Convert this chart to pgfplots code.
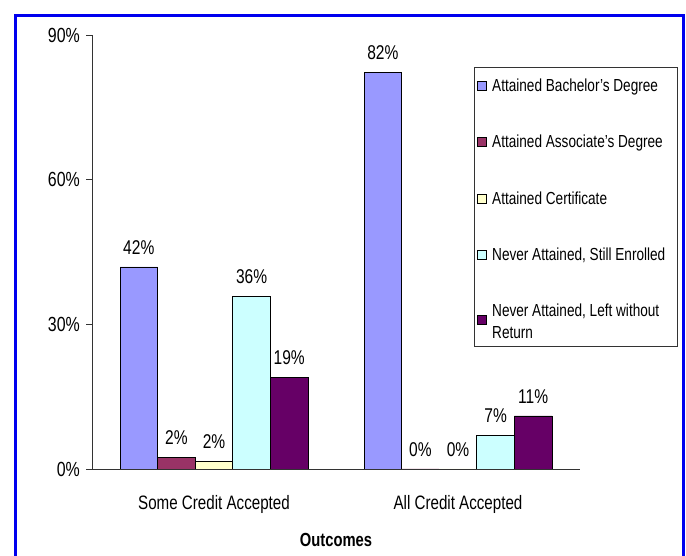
\documentclass[border=0pt]{standalone}
\usepackage{fontspec}
\setmainfont{Liberation Sans}[FakeStretch=0.78]
\usepackage{pgfplots}
\pgfplotsset{compat=1.18}
\definecolor{cBach}{HTML}{9999FF}
\definecolor{cAssoc}{HTML}{993366}
\definecolor{cCert}{HTML}{FFFFCC}
\definecolor{cEnr}{HTML}{CCFFFF}
\definecolor{cLeft}{HTML}{660066}
\definecolor{frameblue}{HTML}{0000EE}
\newcommand{\legtxt}[1]{\makebox[180bp][l]{#1}}
\begin{document}
\begin{tikzpicture}[x=1bp,y=1bp]
\path[use as bounding box] (0,0) rectangle (686,556);
\clip (0,0) rectangle (686,556);
\draw[frameblue, line width=3bp] (15.5,540.5) rectangle (683.5,-20);
\begin{axis}[
  at={(92bp,87bp)}, anchor=south west,
  scale only axis, width=488bp, height=434bp,
  xmin=-0.5, xmax=1.5, ymin=0, ymax=90,
  axis x line*=bottom, axis y line*=left,
  axis line style={black!80, line width=0.8bp},
  ybar=0pt, bar width=37.6bp,
  ytick={0,30,60,90},
  yticklabel={\pgfmathprintnumber{\tick}\%},
  /pgf/number format/assume math mode=true,
  ytick style={black!80, line width=0.8bp},
  y tick label style={font=\fontsize{20.5}{24}\selectfont, anchor=east, inner sep=0pt, xshift=-6bp},
  major tick length=6bp, tick align=outside,
  xtick={0,1},
  xticklabels={Some Credit Accepted, All Credit Accepted},
  x tick style={draw=none},
  x tick label style={font=\fontsize{19.5}{23}\selectfont, anchor=center, yshift=-29bp},
  extra x ticks={-0.5,0.5,1.5},
  extra x tick labels={},
  extra x tick style={tick style={draw=black!80, line width=0.8bp}, major tick length=6bp},
  xlabel={Outcomes},
  xlabel style={font=\bfseries\fontsize{19}{22}\selectfont, at={(axis description cs:0.5,-0.1636)}, anchor=center},
  nodes near coords={\pgfmathprintnumber[fixed,precision=0]{\pgfplotspointmeta}\%},
  every node near coord/.append style={font=\fontsize{20}{24}\selectfont, anchor=south, yshift=9bp, black},
  legend image code/.code={\draw[#1] (0bp,-4.5bp) rectangle (9bp,4.5bp);},
  legend style={at={(axis description cs:0.783,0.926)}, anchor=north west,
    draw=black!80, line width=0.6bp, font=\fontsize{17.5}{22}\selectfont,
    cells={anchor=base west}, row sep=38.5bp, column sep=3bp,
    inner xsep=3bp, inner ysep=9bp},
  legend cell align=left,
]
\addplot[fill=cBach, draw=black, line width=0.8bp] coordinates {(0,41.9) (1,82.2)};
\addlegendentry{\legtxt{Attained Bachelor's Degree}}
\addplot[fill=cAssoc, draw=black, line width=0.8bp] coordinates {(0,2.4) (1,0)};
\addlegendentry{\legtxt{Attained Associate's Degree}}
\addplot[fill=cCert, draw=black, line width=0.8bp] coordinates {(0,1.6) (1,0)};
\addlegendentry{\legtxt{Attained Certificate}}
\addplot[fill=cEnr, draw=black, line width=0.8bp] coordinates {(0,35.7) (1,7.0)};
\addlegendentry{\legtxt{Never Attained, Still Enrolled}}
\addplot[fill=cLeft, draw=black, line width=0.8bp] coordinates {(0,19.0) (1,11.0)};
\addlegendentry[text depth=19bp, text height=11.5bp]{\legtxt{\begin{tabular}[t]{@{}l@{}}Never Attained, Left without\\Return\end{tabular}}}
\end{axis}
\end{tikzpicture}
\end{document}
